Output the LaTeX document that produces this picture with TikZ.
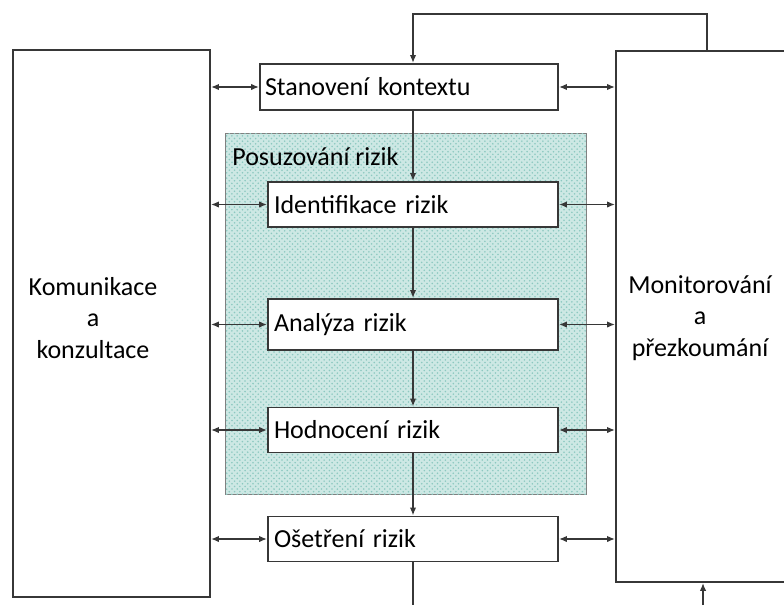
\documentclass[tikz,border=0pt]{standalone}
\usepackage{fontspec}
\setmainfont{Carlito}
\usetikzlibrary{arrows.meta,patterns}
\definecolor{linec}{RGB}{55,55,55}
\definecolor{shade}{RGB}{205,232,228}
\definecolor{dotc}{RGB}{140,200,192}

\begin{document}
\begin{tikzpicture}[x=0.02cm, y=-0.02cm,
  every node/.style={font=\fontsize{14.8}{17.8}\selectfont, text=black},
  stagebox/.style={draw=linec, line width=1.1pt, fill=white, minimum height=0.9cm,
                   text width=5.56cm, inner xsep=0.12cm, inner ysep=0pt, align=left},
  bigbox/.style={draw=linec, line width=1.1pt, fill=white, inner sep=0pt},
  link/.style={draw=linec, line width=1.1pt},
  arr/.style={link, -{Latex[length=1.6mm,width=1.3mm]}},
  dbl/.style={link, {Latex[length=1.6mm,width=1.3mm]}-{Latex[length=1.6mm,width=1.3mm]}}]
  \useasboundingbox (0,0) rectangle (784,605);
  \clip (0,0) rectangle (784,605);
  % Side boxes
  \node[bigbox, minimum width=3.94cm, minimum height=10.94cm] (kom) at (111.5,323.5) {};
  \node[bigbox, minimum width=3.52cm, minimum height=10.62cm] (mon) at (704,316.5) {};
  \node[align=center, inner sep=2pt] (komtext) at (93,318) {Komunikace\\a\\konzultace};
  \node[align=center, inner sep=2pt] (montext) at (700,318) {Monitorování\\a\\přezkoumání};
  % Shaded area
  \node[draw=gray, line width=0.6pt, fill=shade, minimum width=7.24cm, minimum height=7.24cm,
        inner sep=0pt, postaction={pattern=crosshatch dots, pattern color=dotc}] (assess) at (406,314) {};
  \node[anchor=west, inner sep=2pt] (asslbl) at (228.5,157) {Posuzování rizik};
  % Steps
  \node[stagebox, text width=5.76cm, inner xsep=0.1cm, minimum height=0.92cm] (stan) at (409,87) {Stanovení kontextu};
  \node[stagebox] (ident) at (413,204.5) {Identifikace rizik};
  \node[stagebox, minimum height=1.02cm] (anal) at (413,324.5) {Analýza rizik};
  \node[stagebox] (hodn) at (413,430) {Hodnocení rizik};
  \node[stagebox] (oset) at (413,539) {Ošetření rizik};
  % Flow down
  \draw[arr] (ident.north |- stan.south) -- (ident.north);
  \draw[arr] (ident.south) -- (anal.north);
  \draw[arr] (anal.south) -- (hodn.north);
  \draw[arr] (hodn.south) -- (oset.north);
  % Links to both side boxes
  \foreach \s in {stan,ident,anal,hodn,oset} {
    \draw[dbl] (kom.east |- \s.west) -- (\s.west);
    \draw[dbl] (\s.east) -- (\s.east -| mon.west);
  }
  % Loop back and ends
  \coordinate (fb) at (707,14);
  \coordinate (out) at (413,605);
  \coordinate (inp) at (703,605);
  \draw[arr] (fb |- mon.north) -- (fb) -| (ident.north |- stan.north);
  \draw[link] (oset.south) -- (out);
  \draw[arr] (inp) -- (inp |- mon.south);
\end{tikzpicture}
\end{document}
